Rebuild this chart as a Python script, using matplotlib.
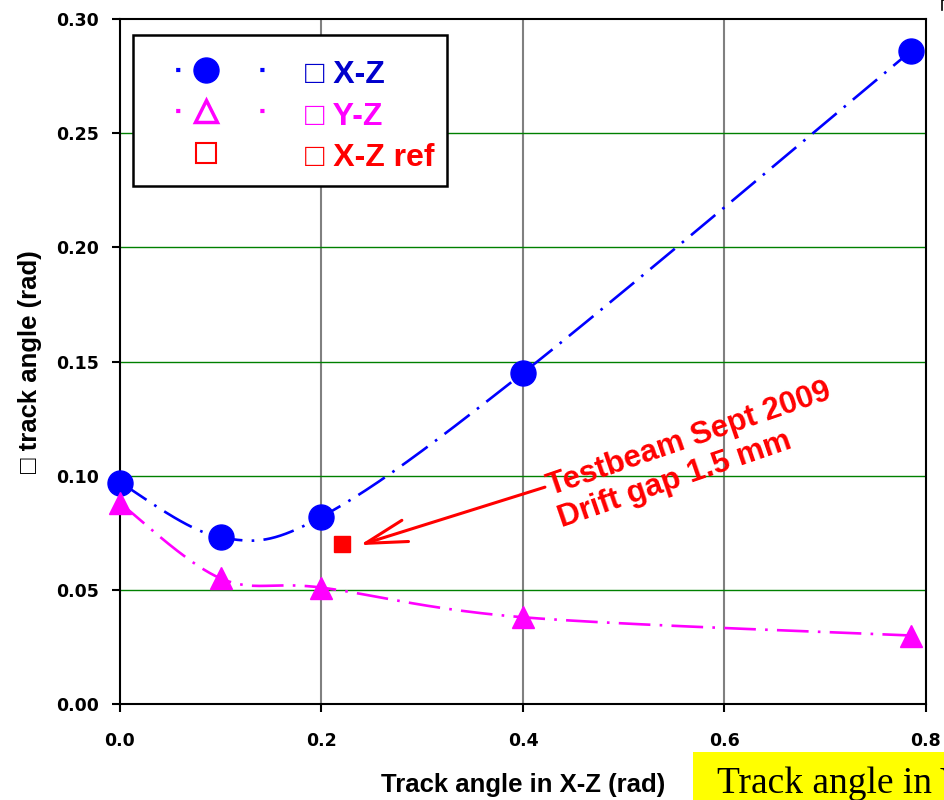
import numpy as np
import matplotlib
matplotlib.use("Agg")
import matplotlib.pyplot as plt
from matplotlib.lines import Line2D
from matplotlib.patches import Rectangle

# Track angle in X-Z (rad) and measured sigma of the track angle (rad)
angle_xz = [0.0, 0.1, 0.2, 0.4, 0.785]
sigma_xz = [0.097, 0.073, 0.082, 0.145, 0.286]
sigma_yz = [0.088, 0.055, 0.051, 0.038, 0.030]
ref_angle = [0.22]
ref_sigma = [0.070]

xticks = [0.0, 0.2, 0.4, 0.6, 0.8]
yticks = [0.00, 0.05, 0.10, 0.15, 0.20, 0.25, 0.30]

SANS = ["Liberation Sans", "DejaVu Sans"]
BLUE = "#0000ff"
MAGENTA = "#ff00ff"
RED = "#ff0000"


def smooth(xs, ys, n=40):
    # Excel-style smoothed line: cubic Bezier through every point
    pts = np.column_stack([xs, ys]).astype(float)
    p = np.vstack([pts[0], pts, pts[-1]])
    t = np.linspace(0, 1, n)[:, None]
    out = []
    for i in range(1, len(p) - 2):
        p0, p1, p2, p3 = p[i - 1], p[i], p[i + 1], p[i + 2]
        c1 = p1 + (p2 - p0) / 6
        c2 = p2 - (p3 - p1) / 6
        seg = (1 - t) ** 3 * p1 + 3 * (1 - t) ** 2 * t * c1 + 3 * (1 - t) * t ** 2 * c2 + t ** 3 * p2
        out.append(seg if i == 1 else seg[1:])
    s = np.vstack(out)
    return s[:, 0], s[:, 1]


fig = plt.figure(figsize=(9.44, 8), dpi=100)
ax = fig.add_axes([0.1271, 0.12, 0.8538, 0.856])

dash = (0, (12, 3.5, 1, 3.5))
sx, sy = smooth(angle_xz, sigma_xz)
ax.plot(sx, sy, color=BLUE, lw=1.9, ls=dash, zorder=3)
sx, sy = smooth(angle_xz, sigma_yz)
ax.plot(sx, sy, color=MAGENTA, lw=1.9, ls=dash, zorder=3)

ax.plot(angle_xz, sigma_xz, 'o', color=BLUE, ms=18, zorder=4, clip_on=False)
ax.plot(angle_xz, sigma_yz, '^', color=MAGENTA, ms=16, zorder=4, clip_on=False)
ax.plot(ref_angle, ref_sigma, 's', color=RED, ms=12, zorder=4)

ax.set_xlim(0, 0.8)
ax.set_ylim(0, 0.30)
ax.set_xticks(xticks)
ax.set_yticks(yticks)
ax.set_xticklabels([f"{v:.1f}" for v in xticks], fontsize=12.5, fontweight='bold', family="DejaVu Sans")
ax.set_yticklabels([f"{v:.2f}" for v in yticks], fontsize=12.5, fontweight='bold', family="DejaVu Sans")
ax.tick_params(axis='x', direction='out', length=6, width=1.5, pad=14)
ax.tick_params(axis='y', direction='out', length=6, width=1.5, pad=9)
for sp in ax.spines.values():
    sp.set_linewidth(1.5)

# gridlines: gray verticals, green horizontals
for x in xticks[1:-1]:
    ax.axvline(x, color='#808080', lw=1.5, zorder=1)
for y in yticks[1:-1]:
    ax.axhline(y, color='#008000', lw=1.0, zorder=1)

ax.set_ylabel("\u25a1 track angle (rad)", fontsize=18.5, fontweight='bold', family=SANS, labelpad=10)
ax.set_xlabel("Track angle in X-Z (rad)", fontsize=18.5, fontweight='bold', family=SANS, labelpad=17)

# annotation for the reference point
ax.annotate("", xy=(0.238, 0.0696), xytext=(0.4218, 0.0950),
            arrowprops=dict(arrowstyle="->,head_length=1.5,head_width=0.4",
                            color=RED, lw=2.2, mutation_scale=20, shrinkA=0, shrinkB=0),
            zorder=5)
ax.text(0.4375, 0.0790, "Testbeam Sept 2009\nDrift gap 1.5 mm", color=RED, fontsize=22.5,
        fontweight='bold', family=SANS, rotation=19, rotation_mode='anchor',
        ha='left', va='baseline', linespacing=1.15, zorder=5)

# legend box drawn separately so its size is fixed
ax.add_patch(Rectangle((0.0161, 0.7562), 0.3896, 0.2204, transform=ax.transAxes,
                       facecolor='white', edgecolor='black', lw=1.8, zorder=5.5))
dots = (13.2, (1.0, 19.2))
handles = [
    Line2D([], [], color=BLUE, lw=3, ls=dots, marker='o', ms=18),
    Line2D([], [], color=MAGENTA, lw=3, ls=dots, marker='^', ms=16,
           markerfacecolor='none', markeredgewidth=2.5),
    Line2D([], [], color=RED, lw=0, marker='s', ms=14, markerfacecolor='none', markeredgewidth=1.5),
]
labels = ["\u25a1 X-Z", "\u25a1 Y-Z", "\u25a1 X-Z ref"]
leg = ax.legend(handles, labels, loc='upper left', bbox_to_anchor=(0.016, 0.9668), borderaxespad=0,
                frameon=False, handlelength=3.7,
                handleheight=1.2, handletextpad=1.25, labelspacing=0.23, borderpad=0.45,
                prop={'family': SANS, 'weight': 'bold', 'size': 23},
                labelcolor=["#0000cc", MAGENTA, RED])
leg.set_zorder(6)

# yellow caption box at the bottom right
fig.add_artist(Rectangle((0.734, 0.0), 0.27, 0.06, transform=fig.transFigure,
                         facecolor='#ffff00', edgecolor='none'))
fig.text(0.760, 0.009, "Track angle in Y-Z (rad)", fontsize=27, family=["Liberation Serif", "DejaVu Serif"],
         ha='left', va='baseline')

fig.add_artist(Line2D([0.998, 0.998, 1.0], [0.988, 1.0, 1.0], color='black', lw=1.2))

fig.savefig("out.png", dpi=100)
